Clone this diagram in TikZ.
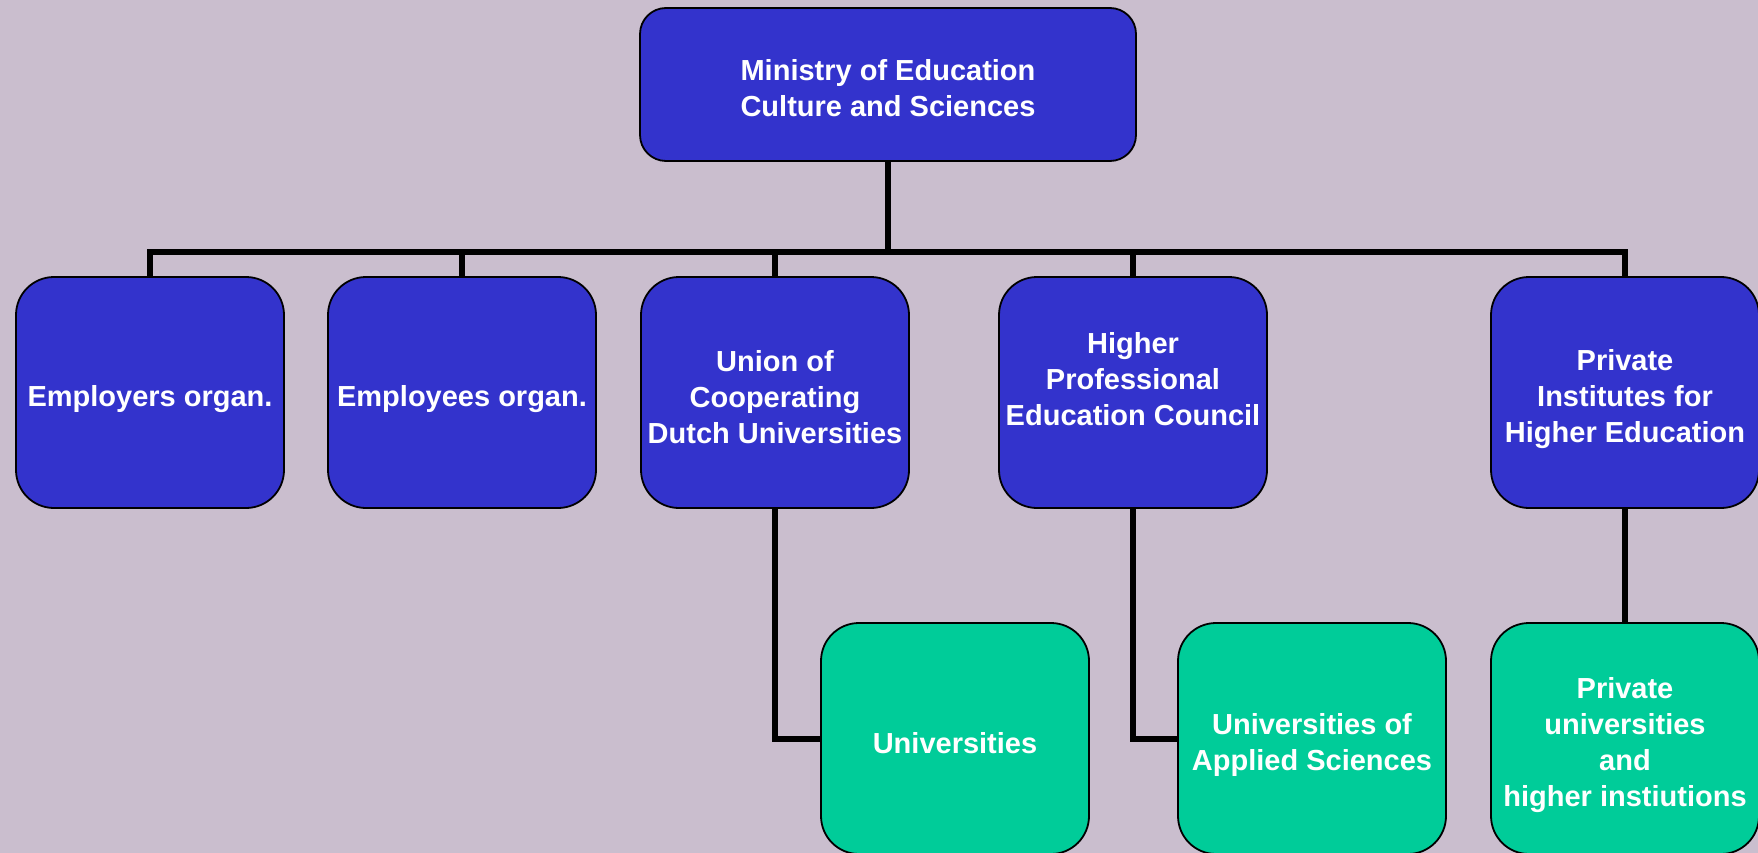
\documentclass[tikz,border=0pt]{standalone}
\usepackage{fontspec}
\setmainfont{Liberation Sans}
\definecolor{bg}{RGB}{202,190,206}
\definecolor{boxblue}{RGB}{51,51,204}
\definecolor{boxgreen}{RGB}{0,204,153}
\newcommand{\tstr}{\rule{0pt}{35pt}}
\newcommand{\bstr}{\rule[-6pt]{0pt}{6pt}}
\begin{document}
\begin{tikzpicture}[x=1pt,y=-1pt,
  orgbox/.style={draw=black, line width=1.8pt, rounded corners=38pt,
    minimum width=268pt, minimum height=231pt, inner sep=0pt, align=center,
    text=white, font=\fontsize{29}{36}\selectfont\bfseries},
  bluebox/.style={orgbox, fill=boxblue},
  greenbox/.style={orgbox, fill=boxgreen},
  conn/.style={line width=6pt, draw=black, line join=miter}]
\fill[bg] (0,0) rectangle (1758,853);
\useasboundingbox (0,0) rectangle (1758,853);

\node[bluebox, minimum width=496pt, minimum height=153pt, rounded corners=26pt] (min) at (888,84.5) {\tstr Ministry of Education\\Culture and Sciences\bstr};

\node[bluebox] (emp)  at (150,392.5) {\tstr Employers organ.\bstr};
\node[bluebox] (empe) at (462,392.5) {\tstr Employees organ.\bstr};
\node[bluebox] (union) at (775,392.5) {\tstr Union of\\Cooperating\\Dutch Universities\bstr};
\node[bluebox] (hpec) at (1133,392.5) {\tstr Higher\\Professional\\Education Council\\\mbox{}\bstr};
\node[bluebox] (pihe) at (1625,392.5) {\tstr Private\\Institutes for\\Higher Education\bstr};

\node[greenbox] (univ) at (955,738.5) {\tstr Universities\bstr};
\node[greenbox] (uas)  at (1312,738.5) {\tstr Universities of\\Applied Sciences\bstr};
\node[greenbox] (pu)   at (1625,738.5) {\tstr Private\\universities\\and\\higher instiutions\bstr};

\coordinate (bus) at (888,252);
\foreach \c in {emp,empe,union,hpec,pihe}{
  \draw[conn] (min.south) -- (min.south |- bus) -| (\c.north);
}
\draw[conn] (union.south) |- (univ.west);
\draw[conn] (hpec.south) |- (uas.west);
\draw[conn] (pihe.south) -- (pu.north);
\end{tikzpicture}
\end{document}
